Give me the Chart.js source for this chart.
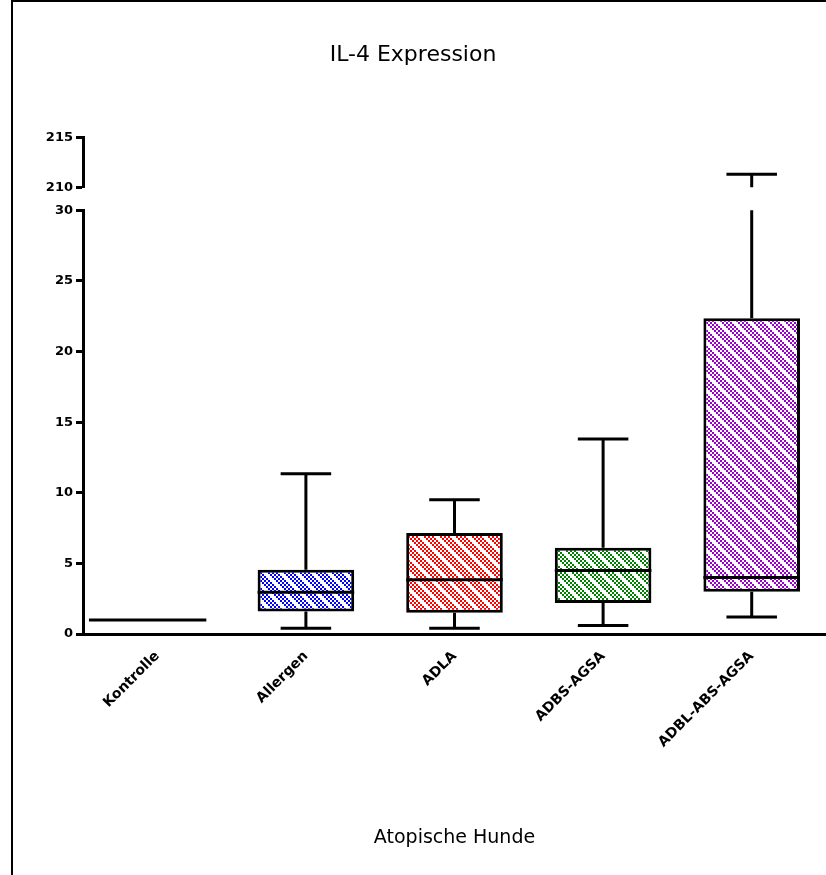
<!DOCTYPE html>
<html>
<head>
<meta charset="utf-8">
<script src="https://cdn.jsdelivr.net/npm/chart.js@4.4.1/dist/chart.umd.min.js"></script>
<style>
  html, body { margin: 0; padding: 0; background: #fff; }
  #wrap { position: relative; width: 826px; height: 875px; overflow: hidden; }
  #frame { position: absolute; left: 11px; top: 0; width: 830px; height: 880px;
           border-left: 2px solid #000; border-top: 2px solid #000; pointer-events: none; }
  canvas { position: absolute; left: 0; top: 0; }
</style>
</head>
<body>
<div id="wrap">
  <canvas id="c" width="826" height="875"></canvas>
  <div id="frame"></div>
</div>
<script>
// ---- data ----
const categories = ['Kontrolle', 'Allergen', 'ADLA', 'ADBS-AGSA', 'ADBL-ABS-AGSA'];
const minValues    = [1, 0.4, 0.4, 0.6, 1.2];
const q1Values     = [1, 1.6, 1.5, 2.2, 3.0];
const medianValues = [1, 2.95, 3.85, 4.5, 4.0];
const q3Values     = [1, 4.55, 7.15, 6.1, 22.35];
const maxValues    = [1, 11.35, 9.5, 13.8, 211.3];
const boxColors    = [null, '#0000ff', '#ff0000', '#008000', '#9900cc'];
const lowerTicks   = [0, 5, 10, 15, 20, 25, 30];
const upperTicks   = [210, 215];

function makePattern(color) {
  const t = document.createElement('canvas');
  t.width = 16; t.height = 16;
  const g = t.getContext('2d');
  g.fillStyle = '#fff';
  g.fillRect(0, 0, 16, 16);
  g.fillStyle = color;
  for (let i = 0; i < 8; i++) {
    for (let j = 0; j < 8; j++) {
      if ((i + j) % 2 === 0 && ((i - j + 16) % 8) < 6) {
        g.fillRect(i * 2, j * 2, 2, 2);
      }
    }
  }
  return document.getElementById('c').getContext('2d').createPattern(t, 'repeat');
}

const boxData = categories.map((c, i) => i === 0 ? null : [q1Values[i], q3Values[i]]);
const boxFills = boxColors.map(c => c ? makePattern(c) : 'rgba(0,0,0,0)');

const boxPlugin = {
  id: 'boxWhiskers',
  afterDatasetsDraw(chart) {
    const ctx = chart.ctx;
    const xs = chart.scales.x;
    const y = chart.scales.y;
    const yTop = chart.scales.yTop;
    const cat = xs.getPixelForValue(1) - xs.getPixelForValue(0);
    const lowMax = y.max;
    ctx.save();
    ctx.strokeStyle = '#000';
    ctx.lineWidth = 3;
    ctx.lineCap = 'butt';
    categories.forEach((c, i) => {
      const cx = xs.getPixelForValue(i);
      if (i === 0) {
        const yp = y.getPixelForValue(medianValues[i]);
        ctx.beginPath();
        ctx.moveTo(cx - cat * 0.46, yp);
        ctx.lineTo(cx + cat * 0.33, yp);
        ctx.stroke();
        return;
      }
      const half = cat * 0.65 / 2;
      const capHalf = cat * 0.17;
      const ym = y.getPixelForValue(medianValues[i]);
      ctx.beginPath();
      ctx.moveTo(cx - half, ym);
      ctx.lineTo(cx + half, ym);
      ctx.stroke();
      const yq1 = y.getPixelForValue(q1Values[i]);
      const ymin = y.getPixelForValue(minValues[i]);
      ctx.beginPath();
      ctx.moveTo(cx, yq1);
      ctx.lineTo(cx, ymin);
      ctx.moveTo(cx - capHalf, ymin);
      ctx.lineTo(cx + capHalf, ymin);
      ctx.stroke();
      const yq3 = y.getPixelForValue(q3Values[i]);
      ctx.beginPath();
      if (maxValues[i] <= lowMax) {
        const ymax = y.getPixelForValue(maxValues[i]);
        ctx.moveTo(cx, yq3);
        ctx.lineTo(cx, ymax);
        ctx.moveTo(cx - capHalf, ymax);
        ctx.lineTo(cx + capHalf, ymax);
      } else {
        ctx.moveTo(cx, yq3);
        ctx.lineTo(cx, y.getPixelForValue(lowMax));
        const ymaxT = yTop.getPixelForValue(maxValues[i]);
        ctx.moveTo(cx, yTop.getPixelForValue(yTop.min));
        ctx.lineTo(cx, ymaxT);
        ctx.moveTo(cx - capHalf, ymaxT);
        ctx.lineTo(cx + capHalf, ymaxT);
      }
      ctx.stroke();
    });
    ctx.restore();
  }
};

const tickFont = { family: 'DejaVu Sans', size: 13, weight: 'bold' };
const yScaleCommon = {
  type: 'linear',
  position: 'left',
  stack: 'yaxis',
  afterFit(s) { s.width = 83; },
  grid: { display: true, drawOnChartArea: false, drawTicks: true, tickLength: 7, tickWidth: 3, tickColor: '#000' },
  border: { display: true, width: 3, color: '#000' },
  ticks: { color: '#000', font: tickFont, padding: 3, autoSkip: false }
};

new Chart(document.getElementById('c'), {
  type: 'bar',
  data: {
    labels: categories,
    datasets: [{
      data: boxData,
      yAxisID: 'y',
      backgroundColor: boxFills,
      borderColor: '#000',
      borderWidth: 3,
      borderSkipped: false,
      barPercentage: 0.65,
      categoryPercentage: 1.0
    }]
  },
  options: {
    responsive: false,
    animation: false,
    events: [],
    layout: { padding: { left: 0, right: 0, top: 0, bottom: 0 } },
    plugins: {
      legend: { display: false },
      tooltip: { enabled: false },
      title: {
        display: true,
        text: 'IL-4 Expression',
        color: '#000',
        font: { family: 'DejaVu Sans', size: 22, weight: 'normal' },
        padding: { top: 42, bottom: 69 }
      }
    },
    scales: {
      x: {
        type: 'category',
        offset: true,
        afterFit(s) { s.height = 241; },
        grid: { display: false, drawTicks: false },
        border: { display: true, width: 3, color: '#000' },
        ticks: { color: '#000', font: { family: 'DejaVu Sans', size: 14, weight: 'bold' },
                 minRotation: 45, maxRotation: 45, padding: 14 },
        title: { display: true, text: 'Atopische Hunde', color: '#000',
                 font: { family: 'DejaVu Sans', size: 19, weight: 'normal' },
                 padding: { top: 0, bottom: 26 } }
      },
      y: Object.assign({}, yScaleCommon, {
        stackWeight: 424, min: lowerTicks[0], max: lowerTicks[lowerTicks.length - 1],
        afterBuildTicks(s) { s.ticks = lowerTicks.map(v => ({ value: v })); }
      }),
      yGap: { type: 'linear', position: 'left', stack: 'yaxis', stackWeight: 23, display: false, min: 0, max: 1 },
      yTop: Object.assign({}, yScaleCommon, {
        stackWeight: 50, min: upperTicks[0], max: upperTicks[upperTicks.length - 1],
        afterBuildTicks(s) { s.ticks = upperTicks.map(v => ({ value: v })); }
      })
    }
  },
  plugins: [boxPlugin]
});
</script>
</body>
</html>
